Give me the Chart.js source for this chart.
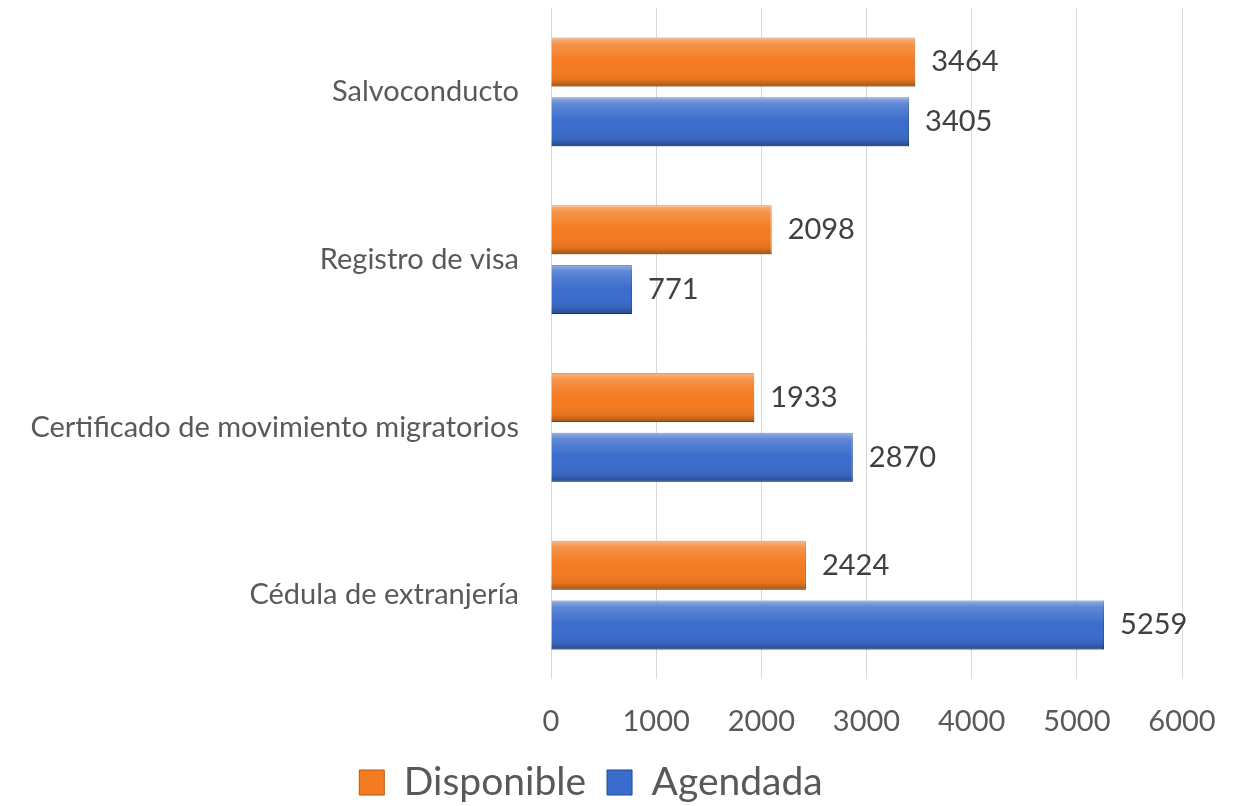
<!DOCTYPE html>
<html>
<head>
<meta charset="utf-8">
<script src="https://cdn.jsdelivr.net/npm/chart.js@4/dist/chart.umd.min.js"></script>
<style>
  html, body { margin: 0; padding: 0; background: #fff; }
  #wrap { width: 1245px; height: 806px; }
</style>
</head>
<body>
<div id="wrap"><canvas id="chart"></canvas></div>
<script>
// Datos
var categorias = ['Salvoconducto', 'Registro de visa', 'Certificado de movimiento migratorios', 'Cédula de extranjería'];
var disponible = [3464, 2098, 1933, 2424];
var agendada   = [3405, 771, 2870, 5259];
var ticksX     = [0, 1000, 2000, 3000, 4000, 5000, 6000];

var FONT = 'Lato, "Open Sans", sans-serif';
var GRIS = '#595959';

// Relieve de las barras (sombreado encima de cada barra)
var bisel = {
    id: 'bisel',
    afterDatasetDraw: function (chart, args) {
        var c = chart.ctx;
        args.meta.data.forEach(function (el) {
            var p = el.getProps(['x', 'y', 'base', 'height'], true);
            var x0 = Math.min(p.x, p.base), x1 = Math.max(p.x, p.base);
            var y0 = p.y - p.height / 2, h = p.height;
            var g = c.createLinearGradient(0, y0, 0, y0 + h);
            g.addColorStop(0,    'rgba(255,255,255,0.45)');
            g.addColorStop(0.14, 'rgba(255,255,255,0.18)');
            g.addColorStop(0.5,  'rgba(255,255,255,0)');
            g.addColorStop(0.86, 'rgba(0,0,0,0.06)');
            g.addColorStop(1,    'rgba(0,0,0,0.32)');
            c.save();
            c.fillStyle = g;
            c.fillRect(x0, y0, x1 - x0, h);
            c.restore();
        });
    }
};

// Etiquetas de valor
var etiquetas = {
    id: 'etiquetas',
    afterDatasetsDraw: function (chart) {
        var c = chart.ctx;
        c.save();
        c.font = '29px ' + FONT;
        c.fillStyle = '#404040';
        c.textBaseline = 'middle';
        c.textAlign = 'left';
        chart.data.datasets.forEach(function (ds, i) {
            chart.getDatasetMeta(i).data.forEach(function (el, j) {
                var p = el.getProps(['x', 'y'], true);
                c.fillText(String(ds.data[j]), p.x + 16, p.y);
            });
        });
        c.restore();
    }
};

new Chart(document.getElementById('chart'), {
    type: 'bar',
    data: {
        labels: categorias,
        datasets: [
            {
                label: 'Disponible',
                data: disponible,
                backgroundColor: '#f47b20',
                borderColor: '#b9570f',
                borderWidth: 1,
                categoryPercentage: 0.713,
                barPercentage: 0.82
            },
            {
                label: 'Agendada',
                data: agendada,
                backgroundColor: '#3a6ccc',
                borderColor: '#1f4794',
                borderWidth: 1,
                categoryPercentage: 0.713,
                barPercentage: 0.82
            }
        ]
    },
    options: {
        indexAxis: 'y',
        responsive: true,
        maintainAspectRatio: false,
        animation: false,
        layout: { padding: { top: 8, right: 63, left: 0, bottom: -6 } },
        plugins: {
            legend: {
                position: 'bottom',
                labels: {
                    font: { family: FONT, size: 39 },
                    color: GRIS,
                    boxWidth: 25,
                    boxHeight: 25,
                    padding: 21
                }
            },
            tooltip: { enabled: false }
        },
        scales: {
            x: {
                min: 0,
                max: 6000,
                afterBuildTicks: function (s) {
                    s.ticks = ticksX.map(function (v) { return { value: v }; });
                },
                afterFit: function (s) { s.height = 63; },
                grid: { color: '#d9d9d9', lineWidth: 1, drawTicks: false },
                border: { display: false },
                ticks: {
                    color: GRIS,
                    font: { family: FONT, size: 29 },
                    padding: 25,
                    maxRotation: 0,
                    callback: function (v) { return String(v); }
                }
            },
            y: {
                grid: { display: false },
                border: { display: false },
                afterFit: function (s) {
                    s.width = 551;
                    s.paddingTop = 0;
                    s.paddingBottom = 0;
                },
                ticks: {
                    color: GRIS,
                    font: { family: FONT, size: 29 },
                    padding: 24
                }
            }
        }
    },
    plugins: [bisel, etiquetas]
});
</script>
</body>
</html>
